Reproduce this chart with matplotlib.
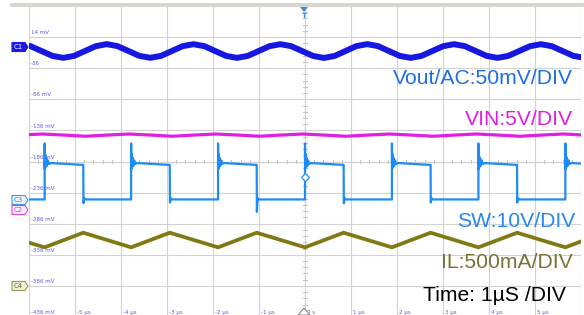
import numpy as np
import matplotlib.pyplot as plt
from matplotlib.patches import Polygon, Rectangle

W, H = 584, 315

# screen grid: time in us, vertical in mV (50 mV/div scale readout)
x_ticks = [-6, -5, -4, -3, -2, -1, 0, 1, 2, 3, 4, 5, 6]
x_labels = ['', '-5 µs', '-4 µs', '-3 µs', '-2 µs', '-1 µs', '0 s',
            '1 µs', '2 µs', '3 µs', '4 µs', '5 µs', '']
y_ticks = [64, 14, -36, -86, -136, -186, -236, -286, -336, -386, -436]
y_labels = ['', '14 mV', '-36', '-86 mV', '-136 mV', '-186 mV', '-236 mV',
            '-286 mV', '-336 mV', '-386 mV', '-436 mV']

# C1 Vout ripple (AC)
vout_t = [-6.200, -5.964, -5.728, -5.492, -5.256, -5.020, -4.784, -4.548,
          -4.312, -4.076, -3.840, -3.604, -3.368, -3.132, -2.896, -2.660,
          -2.424, -2.188, -1.952, -1.716, -1.480, -1.244, -1.008, -0.772,
          -0.536, -0.300, -0.064, 0.172, 0.408, 0.644, 0.880, 1.116,
          1.352, 1.588, 1.824, 2.060, 2.296, 2.532, 2.768, 3.004,
          3.240, 3.476, 3.712, 3.948, 4.184, 4.420, 4.656, 4.892,
          5.128, 5.364, 5.600, 5.836, 6.072]
vout_mv = [2.6, -0.6, -8.4, -16.2, -19.4, -16.2, -8.4, -0.6,
           2.7, -0.5, -8.3, -16.1, -19.3, -16.2, -8.4, -0.6,
           2.6, -0.6, -8.4, -16.2, -19.4, -16.2, -8.4, -0.6,
           2.6, -0.6, -8.4, -16.2, -19.5, -16.3, -8.4, -0.5,
           2.7, -0.5, -8.4, -16.2, -19.4, -16.2, -8.4, -0.6,
           2.6, -0.6, -8.4, -16.2, -19.4, -16.2, -8.4, -0.6,
           2.6, -0.6, -8.4, -16.2, -19.4]

# C2 VIN
vin_t = [-6.186, -5.714, -5.242, -4.770, -4.298, -3.826, -3.354, -2.882,
         -2.410, -1.938, -1.466, -0.994, -0.522, -0.050, 0.422, 0.894,
         1.366, 1.838, 2.310, 2.782, 3.254, 3.726, 4.198, 4.670,
         5.142, 5.614, 6.086]
vin_mv = [-143.5, -141.8, -143.5, -145.4, -143.5, -141.8, -143.5, -145.4,
          -143.5, -141.8, -143.5, -145.4, -143.5, -141.8, -143.5, -145.4,
          -143.5, -141.8, -143.5, -145.4, -143.5, -141.8, -143.5, -145.4,
          -143.5, -141.8, -143.5]

# C3 SW node edges (us) and levels (mV on screen)
sw_rise = [-5.66, -3.78, -1.89, 0.0, 1.89, 3.77, 5.66]
sw_fall = [-4.82, -2.94, -1.05, 0.84, 2.73, 4.61, 6.50]
sw_low = -247.0
sw_high_end = -191.5
sw_undershoot = [6, 5, 20, 6, 5, 5, 5]
ring_dt = [0.0, 0.004, 0.012, 0.022, 0.034, 0.048, 0.066, 0.09, 0.13]
ring_mv = [-157, -198, -174, -195, -180, -193, -184, -190, -188.5]

# C4 inductor current
il_t = [-6.72, -5.66, -4.82, -3.78, -2.94, -1.89, -1.05, 0.0, 0.84,
        1.89, 2.73, 3.77, 4.61, 5.66, 6.50]
il_mv = [-300.5, -324, -300.5, -324, -300.5, -324, -300.5, -324, -300.5,
         -324, -300.5, -324, -300.5, -324, -300.5]


def fx(x):
    return x / W


def fy(y):
    return 1 - y / H


fig = plt.figure(figsize=(W / 100, H / 100), dpi=100)
fig.patch.set_facecolor('white')

top, bottom, left, right = 6, 317, 29, 581
ax = fig.add_axes([fx(left), fy(bottom), (right - left) / W, (bottom - top) / H])
ax.set_xlim(-6, 6)
ax.set_ylim(-436, 64)
ax.set_xticks(x_ticks)
ax.set_yticks(y_ticks)
ax.tick_params(length=0, labelbottom=False, labelleft=False)
ax.grid(True, color='#d2d2d2', lw=0.8)
for s in ax.spines.values():
    s.set_visible(False)
ax.axvline(-6, color='#9a9a9a', lw=1.3, zorder=1)

# center cross with minor ticks
ax.axvline(0, color='#b8b8b8', lw=0.8, zorder=1)
ax.axhline(-186, color='#c4c4c4', lw=0.8, zorder=1)
for v in np.arange(-436, 64, 10):
    ax.plot([-0.05, 0.05], [v, v], color='#b0b0b0', lw=0.6, zorder=1)
for t in np.arange(-6, 6, 0.2):
    ax.plot([t, t], [-189, -183], color='#b0b0b0', lw=0.6, zorder=1)

# readout labels
lab_col = '#5a5ae6'
for v, lab in zip(y_ticks, y_labels):
    ax.text(-5.96, v + 7, lab, fontsize=4, color=lab_col, va='center', ha='left')
for t, lab in zip(x_ticks, x_labels):
    ax.text(t + 0.04, -429, lab, fontsize=4, color=lab_col, va='center', ha='left')

# traces
ax.plot(il_t, il_mv, color='#7f7a14', lw=2.7, solid_joinstyle='miter', zorder=3)

sw_t, sw_v = [-6.5], [sw_low]
for r, f, d in zip(sw_rise, sw_fall, sw_undershoot):
    sw_t.append(r)
    sw_v.append(sw_low)
    for dt, mv in zip(ring_dt, ring_mv):
        sw_t.append(r + dt)
        sw_v.append(mv)
    sw_t += [f, f + 0.004, f + 0.02, f + 0.05]
    sw_v += [sw_high_end, sw_low - d, sw_low + 2, sw_low]
ax.plot(sw_t, sw_v, color='#1e8cf5', lw=1.6, zorder=4)

ax.plot(vin_t, vin_mv, color='#e21fe0', lw=2.3, zorder=4)
ax.plot(vout_t, vout_mv, color='#1717e2', lw=4.3, zorder=5)

ax.plot([0], [-211.6], marker='D', ms=4, mfc='white', mec='#3a96f0', mew=0.9, zorder=6)

# channel annotations
font = ['Liberation Sans', 'DejaVu Sans']
fs = 15.2
fig.text(fx(573), fy(84), 'Vout/AC:50mV/DIV', color='#1f6fe0', fontsize=fs,
         family=font, ha='right', va='baseline')
fig.text(fx(573), fy(125), 'VIN:5V/DIV', color='#e01ee0', fontsize=fs,
         family=font, ha='right', va='baseline')
fig.text(fx(575), fy(227), 'SW:10V/DIV', color='#2a86f2', fontsize=fs,
         family=font, ha='right', va='baseline')
fig.text(fx(573), fy(268), 'IL:500mA/DIV', color='#76743a', fontsize=fs,
         family=font, ha='right', va='baseline')
fig.text(fx(566), fy(301), 'Time: 1µS /DIV', color='black', fontsize=fs,
         family=font, ha='right', va='baseline')

# top bar and trigger marker
fig.add_artist(Rectangle((fx(10), fy(6.5)), (W - 10) / W, 3.5 / H,
                         transform=fig.transFigure, color='#d9d5d1', lw=0))
fig.add_artist(Polygon([(fx(300), fy(7)), (fx(308), fy(7)), (fx(304), fy(12))],
                       transform=fig.transFigure, color='#3a8ee8', lw=0))
fig.text(fx(304), fy(15.5), 'T', color='#3a8ee8', fontsize=5, ha='center',
         va='center', fontweight='bold')
fig.add_artist(Polygon([(fx(298), fy(315)), (fx(310), fy(315)), (fx(304), fy(308))],
                       transform=fig.transFigure, fc='white', ec='#8c8c8c', lw=0.8))


def tag(yc, name, face, edge, tcol):
    pts = [(12, yc - 4.5), (25, yc - 4.5), (28, yc), (25, yc + 4.5), (12, yc + 4.5)]
    fig.add_artist(Polygon([(fx(a), fy(b)) for a, b in pts], closed=True,
                           transform=fig.transFigure, fc=face, ec=edge, lw=0.8))
    fig.text(fx(18), fy(yc), name, color=tcol, fontsize=5, ha='center', va='center')


tag(47, 'C1', '#1a1ae0', '#1a1ae0', 'white')
tag(200, 'C3', '#eef6ff', '#3a96f0', '#2a7ee0')
tag(210, 'C2', '#fdeefd', '#e040e0', '#d030d0')
tag(286, 'C4', '#f2f0dc', '#9a9650', '#6a6830')

fig.savefig('out.png', dpi=100)
